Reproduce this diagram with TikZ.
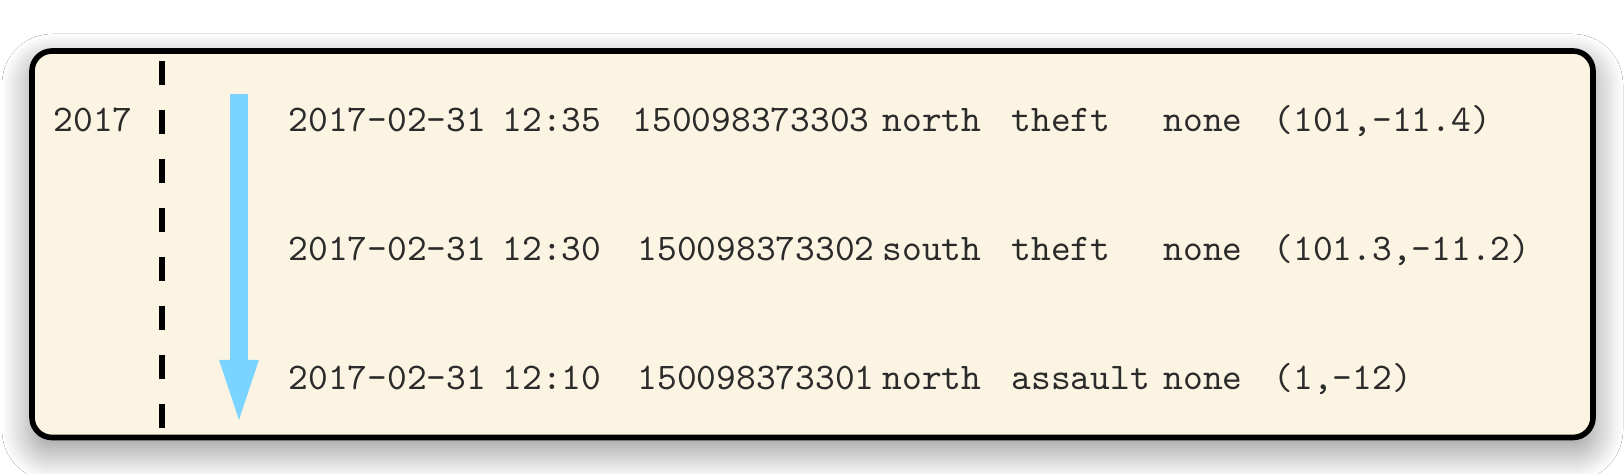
\documentclass[tikz,border=0pt]{standalone}
\usetikzlibrary{arrows.meta,shadows.blur}
\definecolor{paper}{HTML}{FCF4E3}
\definecolor{flow}{HTML}{7AD4FF}
\definecolor{ink}{HTML}{2B2B2B}
\tikzset{
  panel/.style={fill=paper, draw=black, line width=1.6pt, rounded corners=0.2cm,
    blur shadow={shadow xshift=0cm, shadow yshift=-0.13cm, shadow blur radius=0.3cm,
      shadow blur steps=30, shadow opacity=45}},
  cell/.style={anchor=base west, inner sep=0pt, text=ink, font=\fontsize{10.7}{12}\selectfont\ttfamily},
  timeline/.style={line width=1.9pt, dash pattern=on 0.24cm off 0.25cm},
  flowarrow/.style={flow, line width=0.18cm, -{Triangle[length=0.6cm, width=0.4cm, line width=0pt]}}
}
\begin{document}
\begin{tikzpicture}
    \useasboundingbox[fill=white] (0,0) rectangle (16.24,4.74);
    \draw[panel] (0.32,0.365) rectangle (15.93,4.23);
    \node[cell] (year) at (0.53,3.42) {2017};
    \draw[timeline] (1.62,4.13)--(1.62,0.455);
    \coordinate (start) at (2.39,3.80);
    \coordinate (end) at (2.39,0.54);
    \draw[flowarrow] (start)--(end);
    \foreach \y/\tm/\idx/\id/\dir/\crime/\loc [count=\r] in {
      3.42/12:35/6.32/150098373303/north/theft/{(101,-11.4)},
      2.13/12:30/6.37/150098373302/south/theft/{(101.3,-11.2)},
      0.84/12:10/6.37/150098373301/north/assault/{(1,-12)}}{
      \node[cell] (date\r) at (2.88,\y) {2017-02-31};
      \node[cell] (time\r) at (5.02,\y) {\tm};
      \node[cell] (id\r) at (\idx,\y) {\id};
      \node[cell] (dir\r) at (8.82,\y) {\dir};
      \node[cell] (crime\r) at (10.11,\y) {\crime};
      \node[cell] (flag\r) at (11.63,\y) {none};
      \node[cell] (loc\r) at (12.73,\y) {\loc};
    }
\end{tikzpicture}
\end{document}
